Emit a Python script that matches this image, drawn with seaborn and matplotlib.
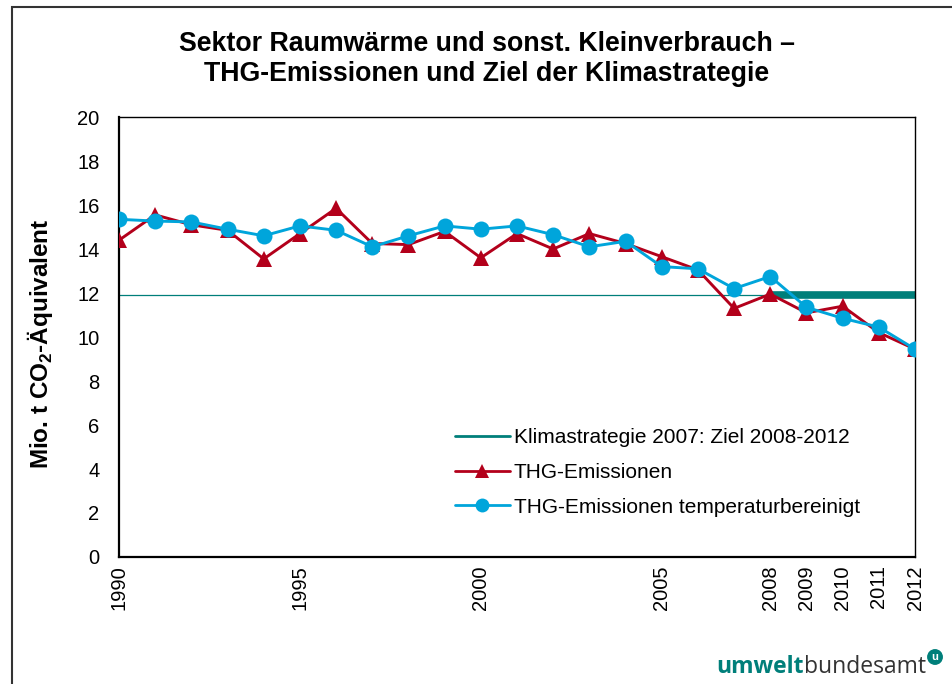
import matplotlib
matplotlib.use("Agg")
import matplotlib.pyplot as plt
import seaborn as sns
import pandas as pd
from matplotlib.lines import Line2D
from matplotlib.patches import Rectangle

years = list(range(1990, 2013))
thg = [14.4, 15.55, 15.1, 14.85, 13.55, 14.7, 15.85, 14.25, 14.2, 14.8, 13.6, 14.7,
       14.0, 14.7, 14.25, 13.65, 13.05, 11.3, 11.95, 11.1, 11.4, 10.2, 9.45]
thg_temp = [15.35, 15.27, 15.23, 14.9, 14.6, 15.05, 14.85, 14.1, 14.6, 15.05, 14.9, 15.05,
            14.65, 14.1, 14.35, 13.2, 13.1, 12.2, 12.75, 11.35, 10.85, 10.45, 9.45]
ziel_value = 11.9
ziel_years = [2008, 2012]
ref_years = [1990, 2012]
tick_years = [1990, 1995, 2000, 2005, 2008, 2009, 2010, 2011, 2012]
yticks = list(range(0, 21, 2))

title = "Sektor Raumwärme und sonst. Kleinverbrauch –\nTHG-Emissionen und Ziel der Klimastrategie"
ylabel = r"Mio. t CO$_\mathbf{2}$-Äquivalent"
lab_ziel = "Klimastrategie 2007: Ziel 2008-2012"
lab_thg = "THG-Emissionen"
lab_temp = "THG-Emissionen temperaturbereinigt"

sns.set_theme(style="white")
plt.rcParams['font.family'] = ['Liberation Sans', 'DejaVu Sans']
plt.rcParams['mathtext.fontset'] = 'custom'
plt.rcParams['mathtext.rm'] = 'Liberation Sans'
plt.rcParams['mathtext.bf'] = 'Liberation Sans:bold'

RED = "#B3001B"
BLUE = "#00A5DB"
TEAL = "#007F7A"

fig = plt.figure(figsize=(9.52, 6.84), dpi=100)
W, H = 952, 684
ax = fig.add_axes([119 / W, 1 - 557 / H, (915 - 119) / W, (557 - 117) / H])

df = pd.DataFrame({"Jahr": years, "thg": thg, "temp": thg_temp})
ref_df = pd.DataFrame({"Jahr": ref_years, "v": [ziel_value] * len(ref_years)})
ziel_df = pd.DataFrame({"Jahr": ziel_years, "v": [ziel_value] * len(ziel_years)})

sns.lineplot(data=ref_df, x="Jahr", y="v", ax=ax, color=TEAL, lw=0.9, zorder=1)
sns.lineplot(data=ziel_df, x="Jahr", y="v", ax=ax, color=TEAL, lw=5.5, zorder=2,
             solid_capstyle="butt")
sns.lineplot(data=df, x="Jahr", y="thg", ax=ax, color=RED, lw=2.1, marker="^",
             markersize=12, markeredgewidth=0, zorder=3)
sns.lineplot(data=df, x="Jahr", y="temp", ax=ax, color=BLUE, lw=2.1, marker="o",
             markersize=11.5, markeredgewidth=0, zorder=4)

ax.set_xlim(1990, 2012)
ax.set_ylim(0, 20)
ax.set_yticks(yticks)
ax.set_xticks(years, minor=True)
ax.set_xticks(tick_years)
ax.set_xticklabels([str(y) for y in tick_years], rotation=90)
ax.tick_params(axis="both", which="both", direction="out", length=5, width=1,
               color="black", labelsize=14.5, labelcolor="black")
ax.tick_params(axis="y", pad=9)
ax.tick_params(axis="x", which="major", pad=1)
ax.set_xlabel("")
ax.set_ylabel("")
fig.text(40 / W, 1 - 344 / H, ylabel, rotation=90, ha="center", va="center",
         fontsize=17.5, fontweight="bold", color="black")
for side in ["left", "bottom"]:
    ax.spines[side].set_linewidth(1.6)
    ax.spines[side].set_color("black")
for side in ["top", "right"]:
    ax.spines[side].set_linewidth(1.0)
    ax.spines[side].set_color("black")
    ax.spines[side].set_visible(True)

handles = [
    Line2D([], [], color=TEAL, lw=2.0),
    Line2D([], [], color=RED, lw=2.0, marker="^", markersize=10, markeredgewidth=0),
    Line2D([], [], color=BLUE, lw=2.0, marker="o", markersize=10, markeredgewidth=0),
]
leg = ax.legend(handles, [lab_ziel, lab_thg, lab_temp], loc="lower left",
                bbox_to_anchor=((447 - 119) / (915 - 119), (557 - 525) / 440),
                frameon=False, fontsize=15, handlelength=2.6, labelspacing=0.75,
                handletextpad=0.2, borderaxespad=0)
for t in leg.get_texts():
    t.set_color("black")

fig.text(487 / W, 1 - 59 / H, title, ha="center", va="center", fontsize=19.3,
         fontweight="bold", color="black", linespacing=1.2)

# figure border
fig.patches.append(Rectangle((12 / W, -0.05), 1.2, 1 - 7 / H + 0.05,
                             transform=fig.transFigure, fill=False,
                             edgecolor="#333333", lw=1.5))

# logo
t1 = fig.text(716 / W, 1 - 667 / H, "umwelt", ha="left", va="center", fontsize=16.5,
              fontweight="bold", color=TEAL, family=["Open Sans", "DejaVu Sans"])
fig.canvas.draw()
bb = t1.get_window_extent()
t2 = fig.text(bb.x1 / W, 1 - 667 / H, "bundesamt", ha="left", va="center", fontsize=16.5,
              color="#333333", family=["Open Sans", "DejaVu Sans"])
bb2 = t2.get_window_extent()
fig.text(bb2.x1 / W + 0.01, 1 - 657 / H, "u", ha="center", va="center", fontsize=8,
         fontweight="bold", color="white",
         bbox=dict(boxstyle="circle,pad=0.2", fc=TEAL, ec=TEAL))

fig.savefig("out.png", dpi=100)
